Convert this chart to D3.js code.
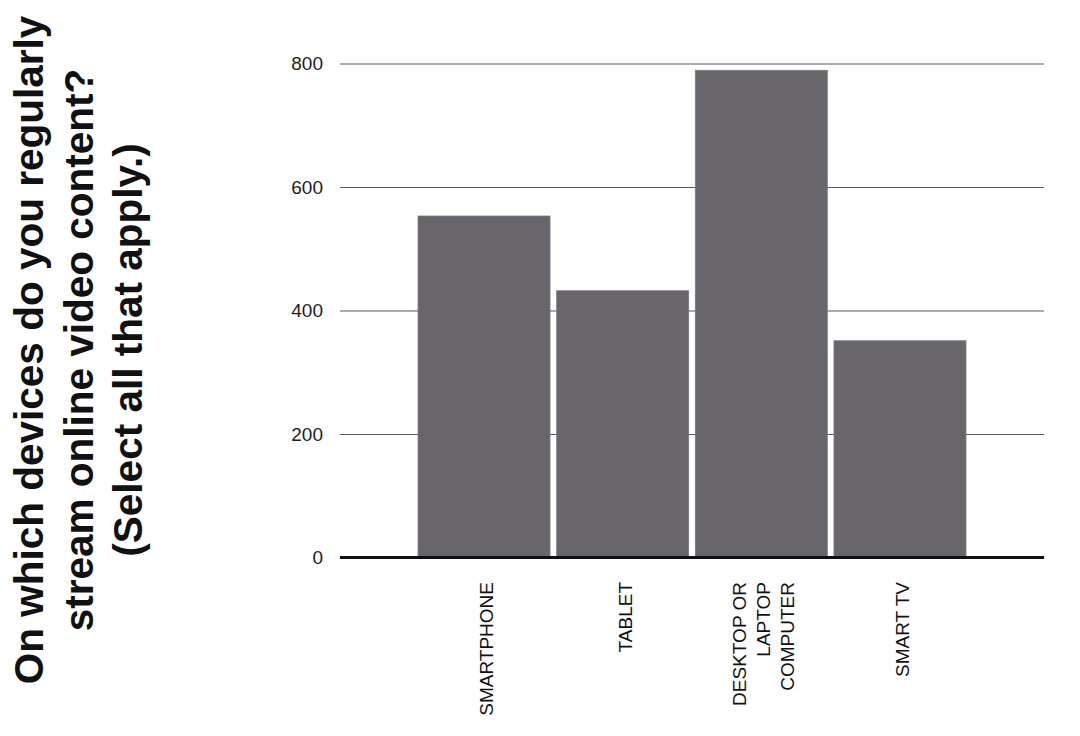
<!DOCTYPE html>
<html>
<head>
<meta charset="utf-8">
<script src="https://cdn.jsdelivr.net/npm/d3@7"></script>
<style>
  html, body { margin: 0; padding: 0; background: #ffffff; }
  svg { display: block; font-family: "Liberation Sans", Arial, Helvetica, sans-serif; }
</style>
</head>
<body>
<svg id="chart" width="1080" height="736"></svg>
<script>
// ---- data ----
const categories = ["SMARTPHONE", "TABLET", "DESKTOP OR LAPTOP COMPUTER", "SMART TV"];
const categoryLines = [["SMARTPHONE"], ["TABLET"], ["DESKTOP OR", "LAPTOP", "COMPUTER"], ["SMART TV"]];
const values = [553, 432, 789, 351];
const yTicks = [0, 200, 400, 600, 800];
const titleLines = ["On which devices do you regularly", "stream online video content?", "(Select all that apply.)"];

// ---- layout ----
const svg = d3.select("#chart");
const plotLeft = 340, plotRight = 1044;

const x = d3.scaleBand()
  .domain(categories)
  .range([414.7, 969.3])
  .paddingInner(0.048)
  .paddingOuter(0.024);

const y = d3.scaleLinear()
  .domain([0, 800])
  .range([557.5, 63.5]);

// gridlines + tick labels
const yAxis = d3.axisLeft(y)
  .tickValues(yTicks)
  .tickSize(-(plotRight - plotLeft))
  .tickPadding(17)
  .tickFormat(d3.format("d"));

const gy = svg.append("g")
  .attr("transform", `translate(${plotLeft},0)`)
  .call(yAxis);
gy.select(".domain").remove();
gy.selectAll(".tick line")
  .attr("stroke", "#58585c")
  .attr("stroke-width", 1.2);
gy.selectAll(".tick text")
  .attr("font-size", 19)
  .attr("fill", "#1e1e1e")
  .attr("font-family", "'Liberation Sans', Arial, sans-serif");

// bars
svg.append("g")
  .selectAll("rect")
  .data(values)
  .join("rect")
  .attr("x", (d, i) => x(categories[i]))
  .attr("width", x.bandwidth())
  .attr("y", d => y(d))
  .attr("height", d => y(0) - y(d))
  .attr("fill", "#68666b")
  .attr("stroke", "#7a787d")
  .attr("stroke-width", 0.8);

// baseline axis
svg.append("line")
  .attr("x1", plotLeft).attr("x2", plotRight)
  .attr("y1", y(0)).attr("y2", y(0))
  .attr("stroke", "#111")
  .attr("stroke-width", 3);

// x labels (rotated)
const lineH = 24;
const labelTop = 582;
const xl = svg.append("g");
categories.forEach((c, i) => {
  const cx = x(c) + x.bandwidth() / 2;
  const lines = categoryLines[i];
  const t = xl.append("text")
    .attr("transform", `translate(${cx},${labelTop}) rotate(-90)`)
    .attr("text-anchor", "end")
    .attr("font-size", 19)
    .attr("fill", "#111");
  lines.forEach((ln, j) => {
    const off = 9 + (j - (lines.length - 1) / 2) * lineH;
    t.append("tspan").attr("x", 0).attr("y", off).text(ln);
  });
});

// title (rotated, 3 lines)
const titleBaselines = [43, 93, 142];
const tg = svg.append("g");
titleLines.forEach((ln, j) => {
  tg.append("text")
    .attr("transform", `translate(${titleBaselines[j]},350) rotate(-90)`)
    .attr("text-anchor", "middle")
    .attr("font-size", 40.5)
    .attr("font-weight", "bold")
    .attr("fill", "#111")
    .text(ln);
});
</script>
</body>
</html>
